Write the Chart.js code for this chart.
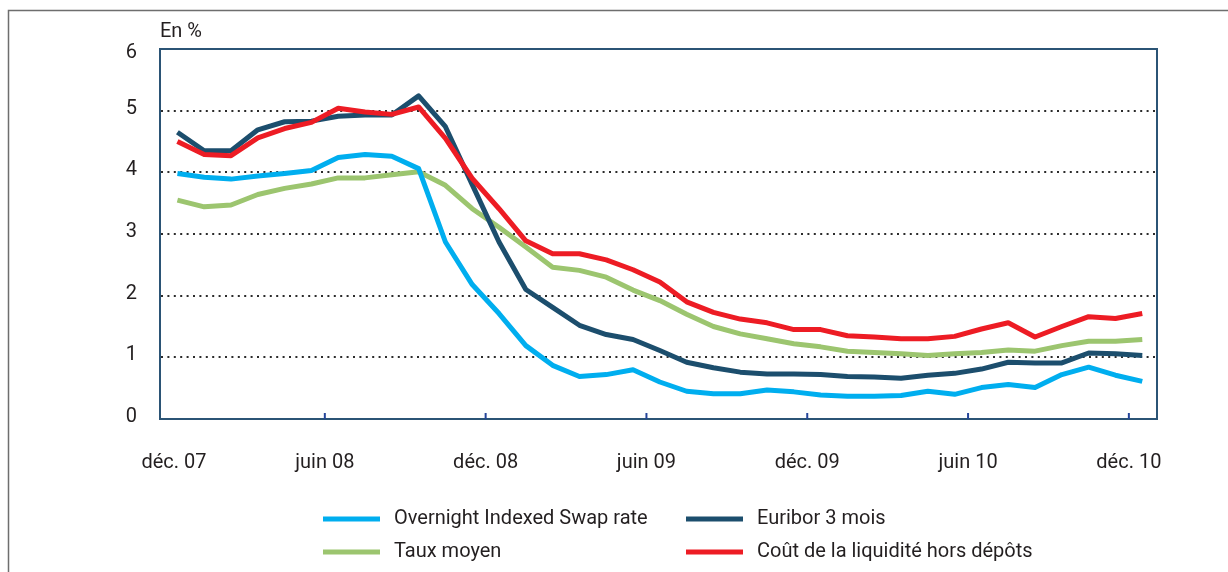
<!DOCTYPE html>
<html lang="fr">
<head>
<meta charset="utf-8">
<title>Taux de marché et coût de la liquidité</title>
<script src="https://cdn.jsdelivr.net/npm/chart.js@4.4.1/dist/chart.umd.min.js"></script>
<style>
  html, body { margin: 0; padding: 0; background: #ffffff; }
  canvas { display: block; }
</style>
</head>
<body>
<canvas id="chart" width="1228" height="572"></canvas>
<script>
// Monthly observations, December 2007 to December 2010 (in %)
const tickLabels = ['déc. 07', 'juin 08', 'déc. 08', 'juin 09', 'déc. 09', 'juin 10', 'déc. 10'];
const yTicks = [0, 1, 2, 3, 4, 5, 6];

const overnightIndexedSwap = [
  3.98, 3.92, 3.89, 3.94, 3.98, 4.03, 4.24, 4.29, 4.26, 4.06,
  2.87, 2.18, 1.71, 1.19, 0.87, 0.69, 0.72, 0.80, 0.60, 0.45,
  0.41, 0.41, 0.47, 0.44, 0.39, 0.37, 0.37, 0.38, 0.45, 0.40,
  0.51, 0.56, 0.51, 0.72, 0.84, 0.71, 0.61
];
const euribor3Mois = [
  4.65, 4.35, 4.35, 4.69, 4.82, 4.83, 4.91, 4.93, 4.93, 5.24,
  4.74, 3.80, 2.87, 2.10, 1.81, 1.52, 1.37, 1.29, 1.11, 0.92,
  0.83, 0.76, 0.73, 0.73, 0.72, 0.69, 0.68, 0.66, 0.71, 0.74,
  0.81, 0.92, 0.91, 0.91, 1.07, 1.06, 1.03
];
const tauxMoyen = [
  3.55, 3.44, 3.47, 3.64, 3.74, 3.81, 3.91, 3.91, 3.96, 4.01,
  3.79, 3.41, 3.11, 2.79, 2.46, 2.41, 2.30, 2.09, 1.92, 1.70,
  1.50, 1.38, 1.30, 1.22, 1.17, 1.10, 1.08, 1.06, 1.03, 1.06,
  1.08, 1.12, 1.10, 1.19, 1.26, 1.26, 1.29
];
const coutLiquidite = [
  4.50, 4.29, 4.27, 4.56, 4.71, 4.81, 5.04, 4.98, 4.94, 5.06,
  4.55, 3.90, 3.41, 2.89, 2.68, 2.68, 2.58, 2.42, 2.22, 1.90,
  1.73, 1.62, 1.56, 1.45, 1.45, 1.35, 1.33, 1.30, 1.30, 1.34,
  1.46, 1.56, 1.33, 1.50, 1.66, 1.63, 1.71
];

const FONT = '20px Roboto, "Liberation Sans", sans-serif';
const TEXT = '#231f20';

// Months counted from the start of December 2007; each observation sits mid-month.
const toPoints = arr => arr.map((v, i) => ({ x: i + 0.5, y: v }));

const series = [
  { label: 'Overnight Indexed Swap rate', values: overnightIndexedSwap, color: '#00aeef', order: 2 },
  { label: 'Euribor 3 mois', values: euribor3Mois, color: '#1c4e6d', order: 1 },
  { label: 'Taux moyen', values: tauxMoyen, color: '#9cc56f', order: 3 },
  { label: 'Coût de la liquidité hors dépôts', values: coutLiquidite, color: '#ed1c24', order: 0 }
];

const framePlugin = {
  id: 'frame',
  beforeDatasetsDraw(chart) {
    const { ctx, chartArea: a, scales: { y } } = chart;
    ctx.save();
    // outer panel rule
    ctx.strokeStyle = '#6e6e6e';
    ctx.lineWidth = 1.5;
    ctx.beginPath();
    ctx.moveTo(8.5, chart.height);
    ctx.lineTo(8.5, 10.5);
    ctx.lineTo(chart.width, 10.5);
    ctx.stroke();

    // dotted horizontal gridlines
    ctx.strokeStyle = '#2b2b2b';
    ctx.lineWidth = 2;
    ctx.setLineDash([2, 4.4]);
    yTicks.forEach(v => {
      if (v === 0 || v === 6) return;
      const py = Math.round(y.getPixelForValue(v));
      ctx.beginPath();
      ctx.moveTo(a.left + 1, py);
      ctx.lineTo(a.right + 2, py);
      ctx.stroke();
    });
    ctx.restore();
  },
  afterDatasetsDraw(chart) {
    const { ctx, chartArea: a, scales: { x, y } } = chart;
    ctx.save();
    // plot frame
    ctx.strokeStyle = '#2b5475';
    ctx.lineWidth = 2;
    ctx.strokeRect(a.left, a.top, a.right - a.left, a.bottom - a.top);

    // x tick marks and labels
    ctx.font = FONT;
    ctx.fillStyle = TEXT;
    ctx.textAlign = 'center';
    ctx.textBaseline = 'middle';
    tickLabels.forEach((lab, k) => {
      const px = x.getPixelForValue(k * 6);
      if (px > a.left + 6) {
        ctx.strokeStyle = '#24459a';
        ctx.lineWidth = 2;
        ctx.beginPath();
        ctx.moveTo(px, a.bottom);
        ctx.lineTo(px, a.bottom - 6);
        ctx.stroke();
      }
      ctx.fillText(lab, Math.max(px, a.left + 14), 463);
    });

    // y labels
    ctx.textAlign = 'right';
    yTicks.forEach(v => {
      const py = y.getPixelForValue(v);
      ctx.fillText(String(v), 137, Math.max(py - 2, a.top + 4));
    });

    // unit
    ctx.textAlign = 'left';
    ctx.fillText('En %', a.left, 32);

    // legend, two columns
    const cols = [323, 686];
    const rows = [519, 552];
    const layout = [[0, 0], [1, 0], [0, 1], [1, 1]];
    series.forEach((s, i) => {
      const [c, r] = layout[i];
      const lx = cols[c], ly = rows[r];
      ctx.strokeStyle = s.color;
      ctx.lineWidth = 5;
      ctx.beginPath();
      ctx.moveTo(lx, ly);
      ctx.lineTo(lx + 57, ly);
      ctx.stroke();
      ctx.fillStyle = TEXT;
      ctx.fillText(s.label, lx + 71, ly);
    });
    ctx.restore();
  }
};

new Chart(document.getElementById('chart'), {
  type: 'line',
  data: {
    datasets: series.map(s => ({
      label: s.label,
      data: toPoints(s.values),
      borderColor: s.color,
      backgroundColor: s.color,
      borderWidth: 5,
      pointRadius: 0,
      tension: 0,
      borderJoinStyle: 'round',
      order: s.order
    }))
  },
  options: {
    responsive: false,
    animation: false,
    layout: { padding: { left: 160, top: 49, right: 71, bottom: 153 } },
    scales: {
      x: { type: 'linear', display: false, min: -0.15, max: 37.05 },
      y: { display: false, min: 0, max: 6 }
    },
    plugins: { legend: { display: false }, tooltip: { enabled: false } }
  },
  plugins: [framePlugin]
});
</script>
</body>
</html>
